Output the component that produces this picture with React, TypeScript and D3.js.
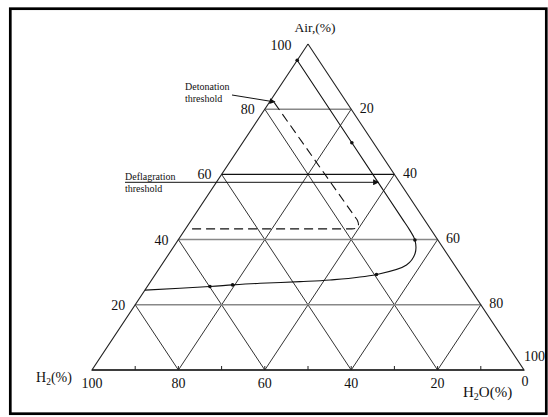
import React, { useEffect, useRef } from 'react';
import * as d3 from 'd3';

// grid levels (percent)
const gridLevels = [20, 40, 60, 80];
const bottomTicks = [90, 80, 70, 60, 50, 40, 30, 20, 10];

// tick labels
const airLabels = ['20', '40', '60', '80'];
const h2oRightLabels = ['80', '60', '40', '20'];
const h2BottomLabels = ['100', '80', '60', '40', '20'];

// limit curve (air %, H2O %)
const curveAir = [95, 69.7, 55.7, 46.5, 42.9, 39.9, 35.8, 32.2, 29.3, 27.6, 27.1, 26.6, 26.1, 25.6, 24.5];
const curveH2O = [0, 25.3, 39.3, 48.5, 52.1, 54.8, 56.9, 56.7, 51.2, 41.3, 34.6, 25.6, 19.5, 14.5, 0];
const curveDots = [0, 1, 5, 8, 12, 13];

// detonation threshold (dashed), air % / H2O %
const detAir = [82, 46, 43.3, 43.3, 43.3];
const detH2O = [1.2, 38.4, 40.7, 38.5, 0.5];

const App = () => {
  const svgRef = useRef<SVGSVGElement | null>(null);

  useEffect(() => {
    if (!svgRef.current) return;
    const width = 548;
    const height = 417;
    const svg = d3.select(svgRef.current);
    svg.attr('width', width).attr('height', height).attr('viewBox', `0 0 ${width} ${height}`);
    svg.selectAll('*').remove();

    const font = "'Liberation Serif', 'Times New Roman', serif";

    // ternary -> pixel
    const xs = d3.scaleLinear().domain([0, 100]).range([92, 524]);
    const ys = d3.scaleLinear().domain([0, 100]).range([370, 44]);
    const P = (air: number, h2o: number): [number, number] => [xs(h2o + air / 2), ys(air)];

    const defs = svg.append('defs');
    defs.append('marker')
      .attr('id', 'arr')
      .attr('viewBox', '0 0 10 10')
      .attr('refX', 9)
      .attr('refY', 5)
      .attr('markerWidth', 7)
      .attr('markerHeight', 6)
      .attr('markerUnits', 'userSpaceOnUse')
      .attr('orient', 'auto')
      .append('path')
      .attr('d', 'M0,0 L10,5 L0,10 Z')
      .attr('fill', '#111');

    // frame
    svg.append('rect')
      .attr('x', 10.3).attr('y', 8.7)
      .attr('width', 536).attr('height', 405)
      .attr('fill', 'white')
      .attr('stroke', '#000')
      .attr('stroke-width', 2.7);

    const g = svg.append('g');
    const line = d3.line();

    // slanted grid lines
    gridLevels.forEach(v => {
      // constant H2 (parallel to right edge)
      g.append('path').attr('d', line([P(v, 0), P(0, v)]))
        .attr('stroke', '#333').attr('stroke-width', 1).attr('fill', 'none');
      // constant H2O (parallel to left edge)
      g.append('path').attr('d', line([P(100 - v, v), P(0, v)]))
        .attr('stroke', '#333').attr('stroke-width', 1).attr('fill', 'none');
    });

    // horizontal grid lines (air)
    gridLevels.forEach(a => {
      g.append('path').attr('d', line([P(a, 0), P(a, 100 - a)]))
        .attr('stroke', a === 60 ? '#111' : '#888')
        .attr('stroke-width', a === 60 ? 1.2 : 1.5)
        .attr('fill', 'none');
    });

    // triangle outline
    g.append('path')
      .attr('d', line([P(100, 0), P(0, 100), P(0, 0), P(100, 0)]))
      .attr('stroke', '#222').attr('stroke-width', 1.1).attr('fill', 'none');
    g.append('path').attr('d', line([P(0, 0), P(0, 100)]))
      .attr('stroke', '#222').attr('stroke-width', 1.6);

    // bottom ticks
    bottomTicks.forEach(h2 => {
      const [x, y] = P(0, 100 - h2);
      g.append('line').attr('x1', x).attr('x2', x).attr('y1', y).attr('y2', y - 4)
        .attr('stroke', '#222').attr('stroke-width', 1);
    });

    // limit curve
    const curvePts = curveAir.map((a, i) => P(a, curveH2O[i]));
    g.append('path')
      .attr('d', d3.line().curve(d3.curveCatmullRom.alpha(0.5))(curvePts))
      .attr('stroke', '#111').attr('stroke-width', 1.1).attr('fill', 'none');
    curveDots.forEach(i => {
      g.append('circle').attr('cx', curvePts[i][0]).attr('cy', curvePts[i][1])
        .attr('r', 1.8).attr('fill', '#111');
    });

    // detonation threshold (dashed)
    const d = detAir.map((a, i) => P(a, detH2O[i]));
    g.append('path')
      .attr('d', `M${d[0]}L${d[1]}Q${d[2]} ${d[3]}L${d[4]}`)
      .attr('stroke', '#111').attr('stroke-width', 1.1)
      .attr('stroke-dasharray', '9,5').attr('fill', 'none');

    // annotation arrows
    g.append('line').attr('x1', 125).attr('y1', 182.3).attr('x2', 378.5).attr('y2', 182.3)
      .attr('stroke', '#111').attr('stroke-width', 1).attr('marker-end', 'url(#arr)');
    g.append('line').attr('x1', 232).attr('y1', 95).attr('x2', 275).attr('y2', 102)
      .attr('stroke', '#111').attr('stroke-width', 1).attr('marker-end', 'url(#arr)');

    const text = (x: number, y: number, s: string, size: number, anchor = 'start') =>
      g.append('text').attr('x', x).attr('y', y).attr('text-anchor', anchor)
        .attr('font-family', font).attr('font-size', size).attr('fill', '#111').text(s);

    text(185, 90, 'Detonation', 10);
    text(185, 101.5, 'threshold', 10);
    text(125, 180, 'Deflagration', 10);
    text(125, 191.5, 'threshold', 10);

    // air labels on left edge
    airLabels.forEach(s => {
      const [x, y] = P(+s, 0);
      text(x - 10, y + 5, s, 14, 'end');
    });
    text(291.5, 50, '100', 14, 'end');

    // H2O labels on right edge
    h2oRightLabels.forEach(s => {
      const a = 100 - +s;
      const [x, y] = P(a, +s);
      text(x + 8.5, y + 3.5, s, 14);
    });
    text(524, 361, '100', 14);

    // H2 labels along bottom
    h2BottomLabels.forEach(s => {
      const [x] = P(0, 100 - +s);
      text(x, 388, s, 14, 'middle');
    });
    text(525, 386, '0', 14, 'middle');

    // axis titles
    text(315, 32, 'Air,(%)', 13.5, 'middle');

    const h2 = g.append('text').attr('x', 36).attr('y', 382)
      .attr('font-family', font).attr('font-size', 14).attr('fill', '#111');
    h2.append('tspan').text('H');
    h2.append('tspan').attr('font-size', 9.5).attr('dy', 3).text('2');
    h2.append('tspan').attr('dy', -3).text('(%)');

    const h2o = g.append('text').attr('x', 463).attr('y', 396.5)
      .attr('font-family', font).attr('font-size', 15).attr('fill', '#111');
    h2o.append('tspan').text('H');
    h2o.append('tspan').attr('font-size', 10).attr('dy', 3.5).text('2');
    h2o.append('tspan').attr('dy', -3.5).text('O(%)');
  }, []);

  return (
    <div style={{ position: 'absolute', left: 0, top: 0, width: 548, height: 417, background: 'white' }}>
      <svg ref={svgRef} style={{ display: 'block' }}></svg>
    </div>
  );
};

export default App;
